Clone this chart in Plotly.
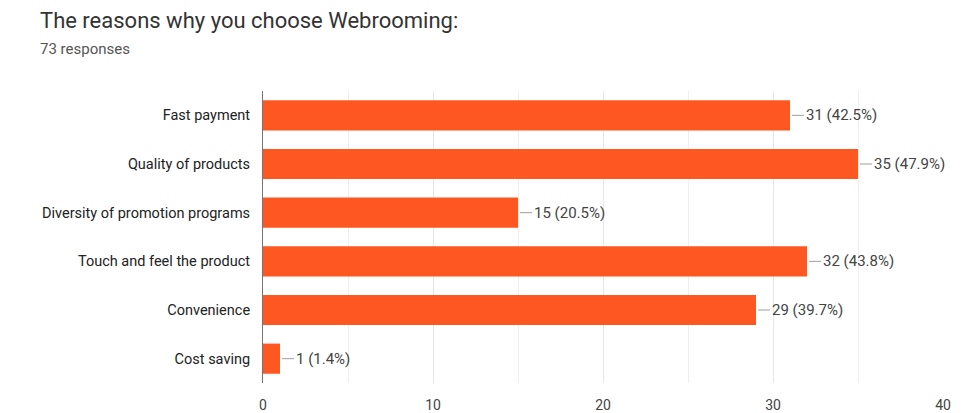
import plotly.graph_objects as go

categories = ["Fast payment", "Quality of products", "Diversity of promotion programs",
              "Touch and feel the product", "Convenience", "Cost saving"]
counts = [31, 35, 15, 32, 29, 1]
percents = ["42.5%", "47.9%", "20.5%", "43.8%", "39.7%", "1.4%"]
x_ticks = [0, 10, 20, 30, 40]

FONT = "Roboto, Arial, sans-serif"
L, R, T, B = 263, 21, 91, 30
PW, PH = 964 - L - R, 413 - T - B

fig = go.Figure()
fig.add_trace(go.Bar(
    x=counts, y=categories, orientation="h",
    marker=dict(color="#ff5722", line=dict(width=0)),
    hoverinfo="skip",
))

for c, v, p in zip(categories, counts, percents):
    fig.add_annotation(
        x=v, y=c, xref="x", yref="y",
        text=f"{v} ({p})", showarrow=True, arrowhead=0, arrowwidth=1,
        arrowcolor="#9e9e9e", ax=14, ay=0, xanchor="left",
        standoff=2, startstandoff=0,
        font=dict(size=15, color="#444444", family=FONT),
    )

fig.add_annotation(
    text="The reasons why you choose Webrooming:", xref="paper", yref="paper",
    x=(38 - L) / PW, y=1 + (T - 20) / PH, xanchor="left", yanchor="middle", showarrow=False,
    font=dict(size=22, color="#333333", family=FONT),
)
fig.add_annotation(
    text="73 responses", xref="paper", yref="paper",
    x=(38 - L) / PW, y=1 + (T - 49) / PH, xanchor="left", yanchor="middle", showarrow=False,
    font=dict(size=15, color="#555555", family=FONT),
)

fig.update_layout(
    width=964, height=413,
    margin=dict(l=L, r=R, t=T, b=B, autoexpand=False),
    paper_bgcolor="white", plot_bgcolor="white",
    showlegend=False, bargap=0.38,
    font=dict(family=FONT, size=12, color="#222222"),
    xaxis=dict(range=[0, 40], tickvals=x_ticks, ticktext=[str(t) for t in x_ticks],
               showgrid=True, gridcolor="#e6e6e6", gridwidth=1,
               minor=dict(dtick=5, showgrid=True, gridcolor="#eeeeee"),
               zeroline=False, showline=False, ticks="", ticklabelstandoff=12,
               tickfont=dict(size=14, color="#444444"), fixedrange=True,
               automargin=False),
    yaxis=dict(autorange="reversed", showline=True, linecolor="#757575", linewidth=1,
               ticks="", ticklabelstandoff=9, tickfont=dict(size=14.5, color="#222222"),
               showgrid=False, fixedrange=True, automargin=False),
)

fig.write_html("out.html")
